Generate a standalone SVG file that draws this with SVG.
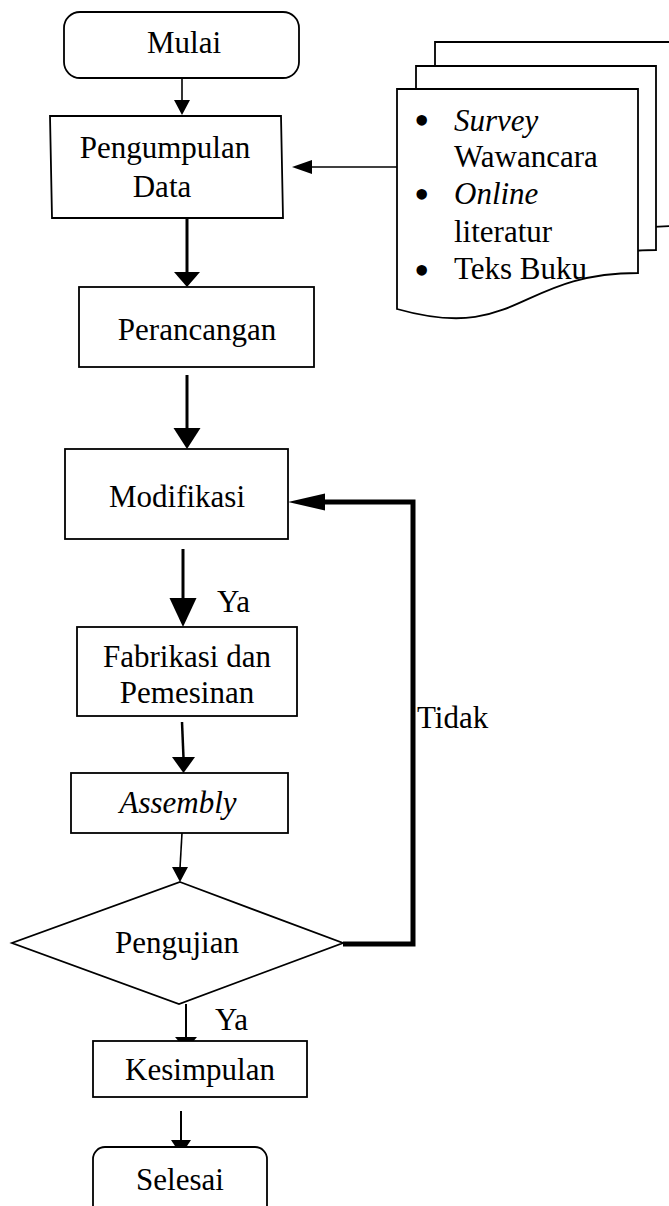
<svg xmlns="http://www.w3.org/2000/svg" width="669" height="1206" viewBox="0 0 669 1206">
<style>
text{font-family:"Liberation Serif","Times New Roman",serif;font-size:31px;fill:#000}
.c{text-anchor:middle}
.i{font-style:italic}
.b{font-size:44px}
.box{fill:#fff;stroke:#000;stroke-width:1.8}
.ln{fill:none;stroke:#000}
.hd{fill:#000;stroke:none}
</style>
<defs>
<filter id="sh" x="-20%" y="-200%" width="140%" height="500%"><feGaussianBlur stdDeviation="1.6"/></filter>
</defs>
<rect width="669" height="1206" fill="#fff"/>
<g id="connectors">
<line class="ln" x1="182" y1="78" x2="182" y2="101" stroke-width="1.6"/>
<polygon class="hd" points="174,100 190,100 182,115"/>
<line class="ln" x1="397" y1="167" x2="310" y2="167" stroke-width="1.6"/>
<polygon class="hd" points="312,160 312,174 292,167"/>
<line class="ln" x1="187" y1="218" x2="187" y2="273" stroke-width="3"/>
<polygon class="hd" points="174,272 200,272 187,287"/>
<line class="ln" x1="187" y1="375" x2="187" y2="429" stroke-width="3"/>
<polygon class="hd" points="173.5,428 200.5,428 187,449"/>
<line x1="346" y1="949" x2="414" y2="949" stroke="#777" stroke-width="5" opacity="0.55" filter="url(#sh)"/>
<polyline class="ln" points="343,944 413,944 413,502 322,502" stroke-width="5"/>
<polygon class="hd" points="325,493.5 325,510.5 288,502"/>
<line class="ln" x1="183" y1="549" x2="183" y2="599" stroke-width="3"/>
<polygon class="hd" points="169.5,598 196.5,598 183,627"/>
<line class="ln" x1="182" y1="722" x2="183.5" y2="758" stroke-width="2.5"/>
<polygon class="hd" points="172,757 195,757 183.5,773"/>
<line class="ln" x1="182" y1="833" x2="180" y2="868" stroke-width="1.6"/>
<polygon class="hd" points="172,867 188,867 180,882"/>
<line class="ln" x1="186" y1="1004" x2="186" y2="1038" stroke-width="2"/>
<polygon class="hd" points="175,1037 197,1037 186,1050"/>
<line class="ln" x1="181" y1="1111" x2="181" y2="1141" stroke-width="2"/>
<polygon class="hd" points="171,1140 191,1140 181,1155"/>
</g>
<g id="mulai">
<rect class="box" x="64" y="12" width="235" height="66" rx="16"/>
<text class="c" x="184" y="53">Mulai</text>
</g>
<g id="pengumpulan">
<polygon class="box" points="50,116 281,116 283,218 52,218"/>
<text class="c" x="165" y="158">Pengumpulan</text>
<text class="c" x="162" y="197">Data</text>
</g>
<g id="sumber">
<path class="box" d="M435,42 L676,42 L676,226 C555.5,226 555.5,296 435,262 Z"/>
<path class="box" d="M416,66 L656,66 L656,250 C536,250 536,320 416,286 Z"/>
<path class="box" d="M397,89 L638,89 L638,273 C517.5,273 517.5,343 397,309 Z"/>
<text class="b" x="414" y="135">•</text>
<text x="454" y="131" class="i">Survey</text>
<text x="454" y="167">Wawancara</text>
<text class="b" x="414" y="209">•</text>
<text x="454" y="204" class="i">Online</text>
<text x="454" y="242">literatur</text>
<text class="b" x="414" y="285">•</text>
<text x="454" y="279">Teks Buku</text>
</g>
<g id="perancangan">
<rect class="box" x="79" y="287" width="235" height="80"/>
<text class="c" x="197" y="340">Perancangan</text>
</g>
<g id="modifikasi">
<rect class="box" x="65" y="449" width="223" height="90"/>
<text class="c" x="177" y="507">Modifikasi</text>
</g>
<g id="fabrikasi">
<rect class="box" x="77" y="627" width="220" height="89"/>
<text class="c" x="187" y="667">Fabrikasi dan</text>
<text class="c" x="187" y="703">Pemesinan</text>
</g>
<g id="assembly">
<rect class="box" x="71" y="773" width="217" height="60"/>
<text class="c i" x="178" y="813">Assembly</text>
</g>
<g id="pengujian">
<polygon class="box" points="180,882 343,943 179,1004 12,943"/>
<text class="c" x="177" y="953">Pengujian</text>
</g>
<g id="kesimpulan">
<rect class="box" x="93" y="1041" width="214" height="56"/>
<text class="c" x="200" y="1080">Kesimpulan</text>
</g>
<g id="selesai">
<rect class="box" x="93" y="1147" width="174" height="72" rx="12"/>
<text class="c" x="180" y="1190">Selesai</text>
</g>
<g id="labels">
<text x="217" y="612">Ya</text>
<text x="215" y="1030">Ya</text>
<text x="417" y="728">Tidak</text>
</g>
</svg>
